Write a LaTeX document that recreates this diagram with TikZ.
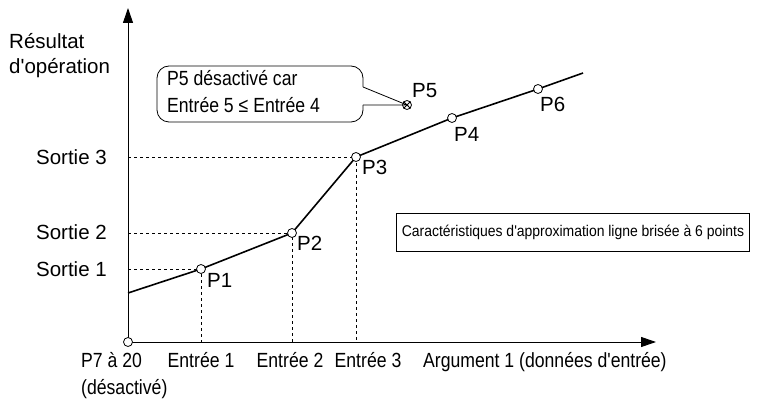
\documentclass[tikz,border=0pt]{standalone}
\usepackage{fontspec}
\setmainfont{Liberation Sans}
\usetikzlibrary{arrows.meta, positioning}

\begin{document}
\begin{tikzpicture}[
    x=1pt, y=-1pt,
    lbl/.style={font=\fontsize{20.5}{24}\selectfont, inner sep=0pt},
    tight/.style={lbl, xscale=0.86},
    pt/.style={circle, draw=black, fill=white, inner sep=0pt, minimum size=9pt, line width=0.8pt},
    curve/.style={line width=1.6pt},
    guide/.style={dashed, line width=0.5pt},
    axis/.style={line width=1pt, -{Triangle[length=15pt, width=10pt]}}
]
\useasboundingbox (0,0) rectangle (773,403);

% Axes
\coordinate (o) at (128,342);
\coordinate (ytip) at (128,8);
\coordinate (xtip) at (656,342);
\draw[axis] (o) -- (ytip);
\draw[axis] (o) -- (xtip);

% Points
\coordinate (start) at (128,293);
\coordinate (p1) at (201,269);
\coordinate (p2) at (292,233);
\coordinate (p3) at (356,157);
\coordinate (p4) at (452,118);
\coordinate (p5) at (407,105);
\coordinate (p6) at (538,89);
\coordinate (stop) at (583,73);

% Guides
\draw[guide] (o |- p1) -- (p1) -- (p1 |- o);
\draw[guide] (o |- p2) -- (p2) -- (p2 |- o);
\draw[guide] (o |- p3) -- (p3) -- (p3 |- o);

% Broken line
\draw[curve] (start) -- (p1) -- (p2) -- (p3) -- (p4) -- (p6) -- (stop);
\foreach \p in {p1,p2,p3,p4,p6}
    \node[pt] (n\p) at (\p) {};
\node[pt] (n7) at (o) {};
\node[circle, draw, inner sep=0pt, minimum size=9pt, line width=0.8pt] (np5) at (p5) {};
\draw[line width=0.8pt] (np5.north west) -- (np5.south east) (np5.north east) -- (np5.south west);

% Point labels
\node[lbl, anchor=north west] (l1) at (207,273) {P1};
\node[lbl, anchor=north west] (l2) at (297,236) {P2};
\node[lbl, anchor=north west] (l3) at (362,160) {P3};
\node[lbl, anchor=north west] (l4) at (454,127) {P4};
\node[lbl, anchor=north west] (l5) at (412,83) {P5};
\node[lbl, anchor=north west] (l6) at (540,97) {P6};

% Axis labels
\node[lbl, align=left, anchor=north west] (yl) at (9,33) {Résultat\\[1pt]d\textquotesingle opération};
\node[lbl, anchor=east] (s1) at (107,269) {Sortie 1};
\node[lbl, anchor=east] (s2) at (107,232) {Sortie 2};
\node[lbl, anchor=east] (s3) at (107,157) {Sortie 3};
\node[tight, align=left, anchor=north west] (l7) at (81,352) {P7 à 20\\[3pt](désactivé)};
\node[tight, anchor=north] (e1) at (201,352) {Entrée 1};
\node[tight, anchor=north] (e2) at (290,352) {Entrée 2};
\node[tight, anchor=north] (e3) at (368,352) {Entrée 3};
\node[tight, anchor=north west] (xl) at (423,352) {Argument 1 (données d\textquotesingle entrée)};

% Callout
\draw[line width=0.8pt, rounded corners=12pt] (363,87) -- (363,66) -- (157,66) -- (157,122) -- (363,122) -- (363,105);
\draw[line width=0.8pt] (363,87) -- (np5.center) -- (363,105);
\node[tight, align=left, anchor=north west] (note) at (167,70) {P5 désactivé car\\[3pt]Entrée 5 ≤ Entrée 4};

% Legend
\node[draw, line width=0.8pt, font=\fontsize{15.5}{18}\selectfont, xscale=0.9, minimum height=38pt, inner xsep=6pt] (legend) at (573,232) {Caractéristiques d\textquotesingle approximation ligne brisée à 6 points};
\end{tikzpicture}
\end{document}
